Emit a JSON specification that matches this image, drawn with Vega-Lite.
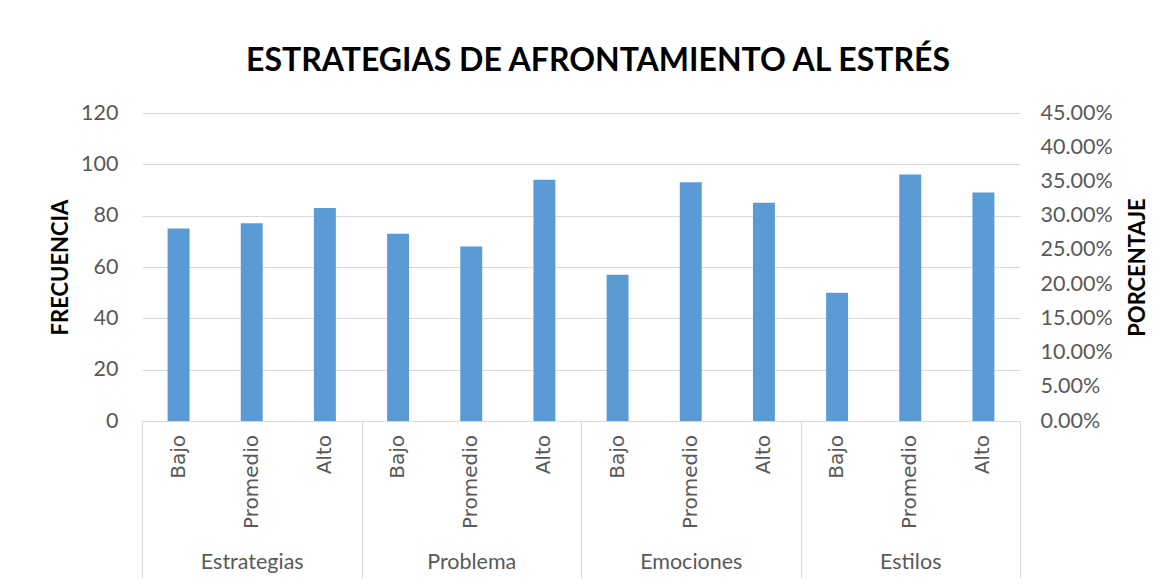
{
  "$schema": "https://vega.github.io/schema/vega-lite/v6.json",
  "width": 878,
  "height": 308,
  "autosize": {"type": "none"},
  "padding": {"left": 142, "top": 113, "right": 154, "bottom": 164},
  "background": "white",
  "config": {"view": {"stroke": null}, "font": "Lato"},
  "title": {"text": "ESTRATEGIAS DE AFRONTAMIENTO AL ESTRÉS", "fontSize": 32, "fontWeight": "bold", "color": "black", "anchor": "middle", "dx": 17, "offset": 24, "font": "Lato"},
  "data": {"values": [
    {"grupo": "Estrategias", "nivel": "Bajo", "frecuencia": 75, "porcentaje": 0.3191},
    {"grupo": "Estrategias", "nivel": "Promedio", "frecuencia": 77, "porcentaje": 0.3277},
    {"grupo": "Estrategias", "nivel": "Alto", "frecuencia": 83, "porcentaje": 0.3532},
    {"grupo": "Problema", "nivel": "Bajo", "frecuencia": 73, "porcentaje": 0.3106},
    {"grupo": "Problema", "nivel": "Promedio", "frecuencia": 68, "porcentaje": 0.2894},
    {"grupo": "Problema", "nivel": "Alto", "frecuencia": 94, "porcentaje": 0.4},
    {"grupo": "Emociones", "nivel": "Bajo", "frecuencia": 57, "porcentaje": 0.2426},
    {"grupo": "Emociones", "nivel": "Promedio", "frecuencia": 93, "porcentaje": 0.3957},
    {"grupo": "Emociones", "nivel": "Alto", "frecuencia": 85, "porcentaje": 0.3617},
    {"grupo": "Estilos", "nivel": "Bajo", "frecuencia": 50, "porcentaje": 0.2128},
    {"grupo": "Estilos", "nivel": "Promedio", "frecuencia": 96, "porcentaje": 0.4085},
    {"grupo": "Estilos", "nivel": "Alto", "frecuencia": 89, "porcentaje": 0.3787}
  ]},
  "encoding": {
    "x": {"field": "grupo", "type": "nominal", "sort": ["Estrategias", "Problema", "Emociones", "Estilos"],
      "scale": {"paddingInner": 0, "paddingOuter": 0},
      "axis": {"title": null, "labelAngle": 0, "tickBand": "extent", "tickSize": 157, "tickColor": "#d9d9d9", "domainColor": "#d9d9d9", "labelPadding": -27, "labelFontSize": 21.5, "labelColor": "#595959", "labelBaseline": "top", "labelFont": "Lato"}},
    "xOffset": {"field": "nivel", "type": "nominal", "sort": ["Bajo", "Promedio", "Alto"], "scale": {"paddingInner": 0.7, "paddingOuter": 0.35}}
  },
  "layer": [
    {
      "layer": [
        {
          "mark": {"type": "bar", "color": "#5b9bd5"},
          "encoding": {
            "y": {"field": "frecuencia", "type": "quantitative", "scale": {"domain": [0, 120]},
              "axis": {"title": "FRECUENCIA", "values": [0, 20, 40, 60, 80, 100, 120], "grid": true, "gridColor": "#d9d9d9", "domain": false, "ticks": false, "labelFontSize": 21.5, "labelColor": "#595959", "labelPadding": 24, "titleFontSize": 22, "titleFontWeight": "bold", "titleColor": "black", "titlePadding": 8}}
          }
        },
        {
          "mark": {"type": "text", "angle": 270, "align": "right", "baseline": "middle", "dx": -14, "fontSize": 20, "font": "DejaVu Sans", "color": "#595959"},
          "encoding": {
            "y": {"datum": 0, "type": "quantitative"},
            "text": {"field": "nivel"}
          }
        }
      ]
    },
    {
      "mark": {"type": "bar", "opacity": 0},
      "encoding": {
        "y": {"field": "porcentaje", "type": "quantitative", "scale": {"domain": [0, 0.45]},
          "axis": {"orient": "right", "title": "PORCENTAJE", "titleAngle": 270, "titleBaseline": "top", "format": ".2%", "values": [0, 0.05, 0.1, 0.15, 0.2, 0.25, 0.3, 0.35, 0.4, 0.45], "grid": false, "domain": false, "ticks": false, "labelFontSize": 21.5, "labelColor": "#595959", "labelPadding": 20, "titleFontSize": 22, "titleFontWeight": "bold", "titleColor": "black", "titlePadding": 15}}
      }
    }
  ],
  "resolve": {"scale": {"y": "independent"}}
}
